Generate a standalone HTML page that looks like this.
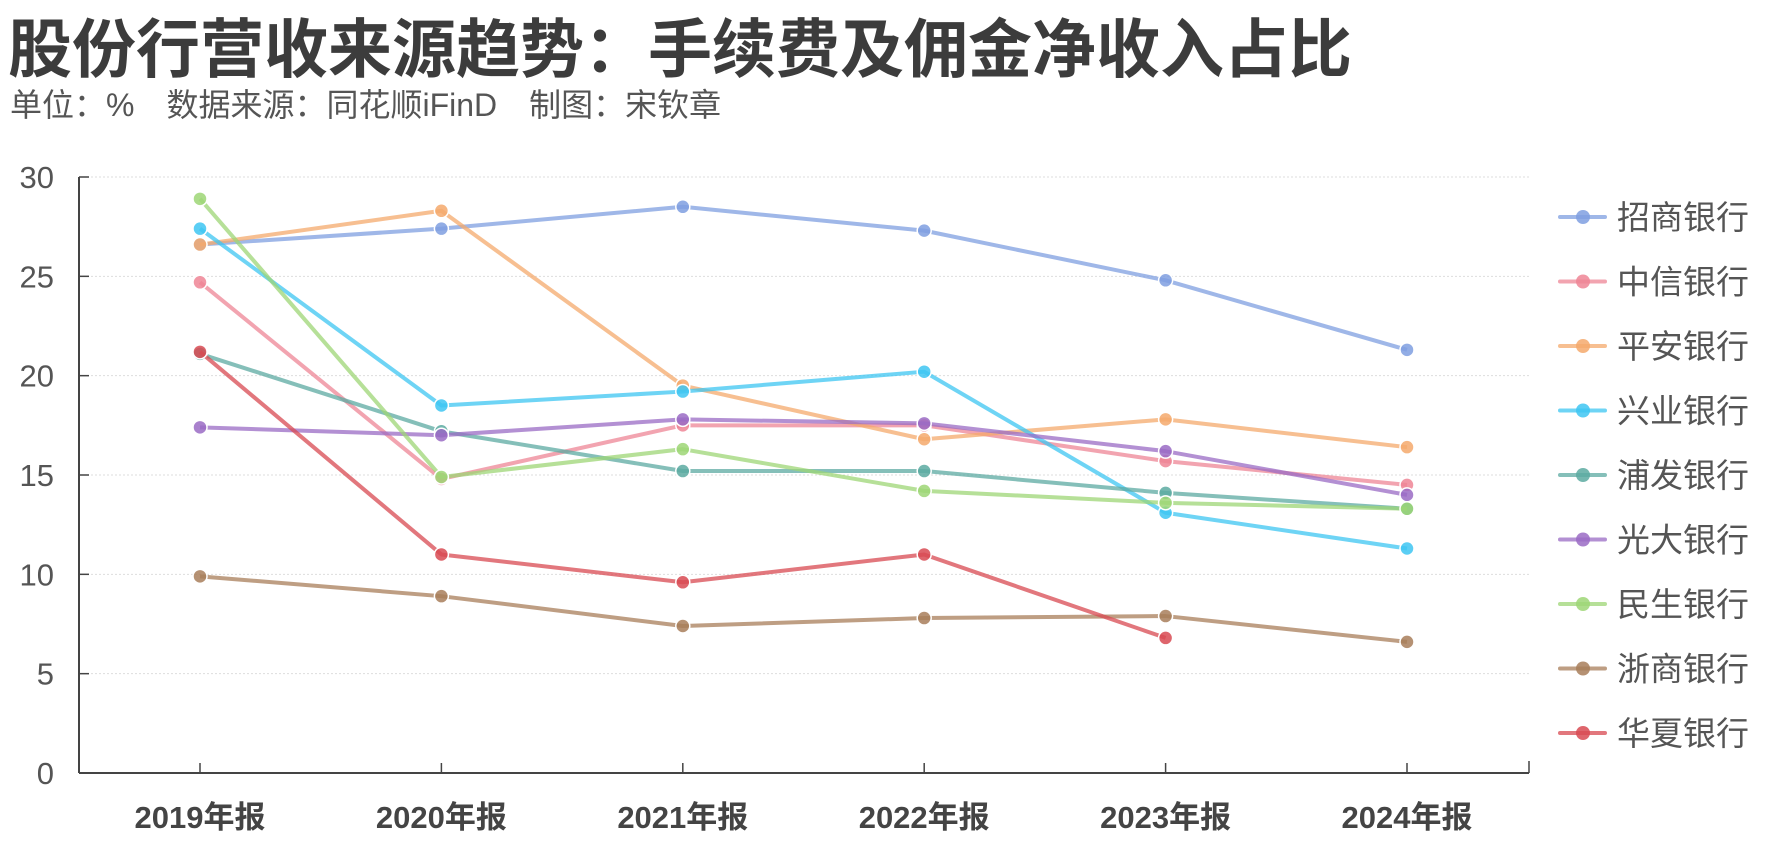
<!DOCTYPE html>
<html><head><meta charset="utf-8"><style>
body{margin:0;background:#fff;width:1772px;height:857px;overflow:hidden;font-family:"Liberation Sans","Noto Sans CJK SC",sans-serif}
</style></head><body>
<svg width="1772" height="857" xmlns="http://www.w3.org/2000/svg" id="chart">
<text x="8" y="72" font-size="64" font-weight="bold" fill="#3c3c3c" font-family="Liberation Sans, Noto Sans CJK SC, sans-serif">股份行营收来源趋势：手续费及佣金净收入占比</text>
<text x="10" y="116" font-size="32" fill="#555" font-family="Liberation Sans, Noto Sans CJK SC, sans-serif">单位：%　数据来源：同花顺iFinD　制图：宋钦章</text>
<g id="grid"></g><g id="axes"></g><g id="series"></g><g id="legend"></g>
</svg>
<script>
const categories=["2019年报","2020年报","2021年报","2022年报","2023年报","2024年报"];
const yTicks=[0,5,10,15,20,25,30];
const names=["招商银行","中信银行","平安银行","兴业银行","浦发银行","光大银行","民生银行","浙商银行","华夏银行"];
const colors=["#7f9fe0","#ee8595","#f4a96c","#3ec6f2","#5caaa1","#9a6bc4","#9dd676","#a87e5a","#d84a52"];
const s0=[26.6,27.4,28.5,27.3,24.8,21.3];
const s1=[24.7,14.8,17.5,17.5,15.7,14.5];
const s2=[26.6,28.3,19.5,16.8,17.8,16.4];
const s3=[27.4,18.5,19.2,20.2,13.1,11.3];
const s4=[21.1,17.2,15.2,15.2,14.1,13.3];
const s5=[17.4,17.0,17.8,17.6,16.2,14.0];
const s6=[28.9,14.9,16.3,14.2,13.6,13.3];
const s7=[9.9,8.9,7.4,7.8,7.9,6.6];
const s8=[21.2,11.0,9.6,11.0,6.8,null];
const series=[s0,s1,s2,s3,s4,s5,s6,s7,s8];
const NS="http://www.w3.org/2000/svg";
const L=79,R=1529,T=177,B=773;
const x=i=>200+i*241.4;
const y=v=>B-(v/30)*(B-T);
function mk(tag,attrs,parent){const e=document.createElementNS(NS,tag);for(const k in attrs)e.setAttribute(k,attrs[k]);parent.appendChild(e);return e;}
const grid=document.getElementById('grid'),axes=document.getElementById('axes'),ser=document.getElementById('series'),leg=document.getElementById('legend');
yTicks.forEach(t=>{
 if(t>0){const g=mk('line',{x1:L,x2:R,y1:y(t),y2:y(t),stroke:'#ddd','stroke-dasharray':'2,2'},grid);
 
 }
 const tk=mk('line',{x1:L,x2:L+10,y1:y(t),y2:y(t),stroke:'#444','stroke-width':1.5},axes);
 
 
 const tx=mk('text',{x:54,y:y(t)+11,'font-size':31,fill:'#555','text-anchor':'end'},axes);tx.textContent=t;
 
 
});
const ya=mk('line',{x1:L,x2:L,y1:T,y2:B,stroke:'#444','stroke-width':2},axes);


const xa=mk('line',{x1:L,x2:R,y1:B,y2:B,stroke:'#444','stroke-width':2},axes);


const re=mk('line',{x1:R,x2:R,y1:B,y2:B-12,stroke:'#444','stroke-width':1.5},axes);


categories.forEach((c,i)=>{
 const tk=mk('line',{x1:x(i),x2:x(i),y1:B,y2:B-10,stroke:'#444','stroke-width':1.5},axes);
 
 
 const tx=mk('text',{x:x(i),y:828,'font-size':31,'font-weight':'bold',fill:'#444','text-anchor':'middle'},axes);tx.textContent=c;
 
 
});
series.forEach((s,k)=>{
 const g=mk('g',{},ser);
 
 
 let d='';s.forEach((v,i)=>{if(v!==null)d+=(d?'L':'M')+x(i)+','+y(v);});
 const p=mk('path',{d:d,fill:'none',stroke:colors[k],'stroke-width':4,'stroke-opacity':0.75,'stroke-linejoin':'round'},g);
 
 
 s.forEach((v,i)=>{if(v===null)return;
  const c=mk('circle',{cx:x(i),cy:y(v),r:7,fill:colors[k],'fill-opacity':0.85,stroke:'#fff','stroke-width':1.5},g);
  
  });
 const ly=217+k*64.5;
 const lg=mk('g',{},leg);
 
 
 mk('line',{x1:1560,x2:1605,y1:ly,y2:ly,stroke:colors[k],'stroke-width':4,'stroke-opacity':0.75,'stroke-linecap':'round'},lg);
 mk('circle',{cx:1583,cy:ly,r:7,fill:colors[k],'fill-opacity':0.85},lg);
 const t=mk('text',{x:1617,y:ly+12,'font-size':33,fill:'#555'},lg);t.textContent=names[k];
});
</script>
</body></html>
